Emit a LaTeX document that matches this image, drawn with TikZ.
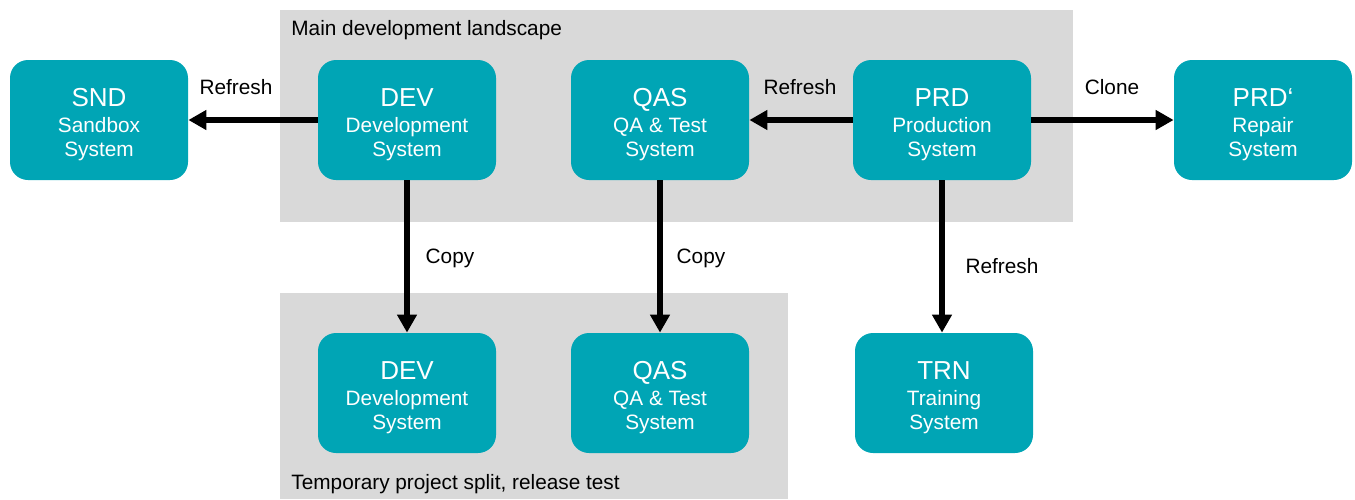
\documentclass[tikz,border=0pt]{standalone}
\usepackage{fontspec}
\setmainfont{Liberation Sans}
\usetikzlibrary{arrows.meta}
\definecolor{teal}{HTML}{00A5B5}
\definecolor{bggrey}{HTML}{D9D9D9}
\tikzset{
  sysbox/.style={fill=teal, draw=none, rounded corners=9pt, minimum width=89pt, minimum height=60pt, text=white, align=center, inner sep=0pt},
  area/.style={fill=bggrey, draw=none},
  lbl/.style={font=\fontsize{10.4}{12}\selectfont, text=black, inner sep=0pt},
  flow/.style={line width=3pt, -{Triangle[length=9pt,width=9.5pt]}}
}
\newcommand{\sysT}[3]{{\fontsize{13}{14}\selectfont\rule{0pt}{13.6pt}#1}\\[0.8pt]{\fontsize{10.4}{12}\selectfont #2}\\[0.2pt]{\fontsize{10.4}{12}\selectfont #3}}
\begin{document}
\begin{tikzpicture}[x=0.5pt,y=-0.5pt]
\useasboundingbox (0,0) rectangle (1355,499);
\fill[area] (280,10) rectangle (1073,222);
\fill[area] (280,293) rectangle (788,499);
\node[lbl, anchor=west] (mainlbl) at (291,30) {Main development landscape};
\node[lbl, anchor=west] (templbl) at (291,484) {Temporary project split, release test};

\node[sysbox] (snd) at (99,120) {\sysT{SND}{Sandbox}{System}};
\node[sysbox] (dev) at (407,120) {\sysT{DEV}{Development}{System}};
\node[sysbox] (qas) at (660,120) {\sysT{QAS}{QA \& Test}{System}};
\node[sysbox] (prd) at (942,120) {\sysT{PRD}{Production}{System}};
\node[sysbox] (prdc) at (1263,120) {\sysT{PRD‘}{Repair}{System}};
\node[sysbox] (dev2) at (407,393) {\sysT{DEV}{Development}{System}};
\node[sysbox] (qas2) at (660,393) {\sysT{QAS}{QA \& Test}{System}};
\node[sysbox] (trn) at (944,393) {\sysT{TRN}{Training}{System}};

\draw[flow] (dev.west) -- (snd.east);
\draw[flow] (prd.west) -- (qas.east);
\draw[flow] (prd.east) -- (prdc.west);
\draw[flow] (dev.south) -- (dev2.north);
\draw[flow] (qas.south) -- (qas2.north);
\draw[flow] (prd.south) -- (prd.south |- trn.north);

\node[lbl] (l1) at (236,87) {Refresh};
\node[lbl] (l2) at (800,87) {Refresh};
\node[lbl] (l3) at (1112,87) {Clone};
\node[lbl] (l4) at (450,258) {Copy};
\node[lbl] (l5) at (701,258) {Copy};
\node[lbl] (l6) at (1002,266) {Refresh};
\end{tikzpicture}
\end{document}
